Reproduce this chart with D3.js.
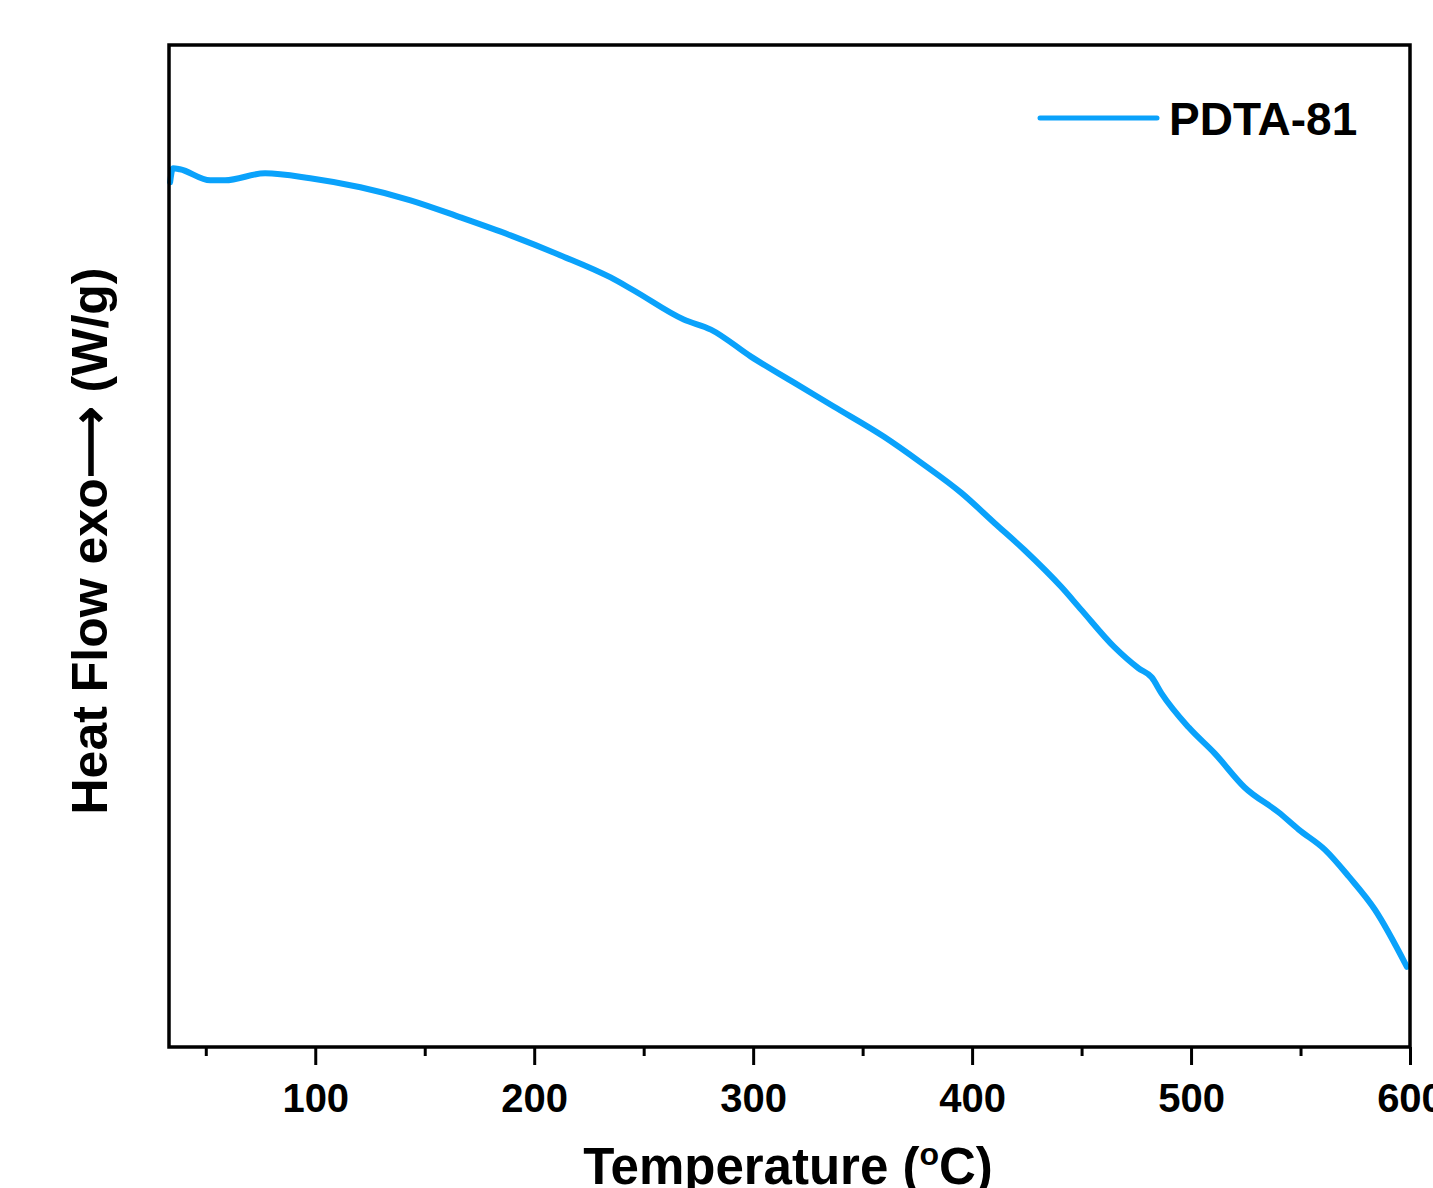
<!DOCTYPE html>
<html>
<head>
<meta charset="utf-8">
<script src="https://cdn.jsdelivr.net/npm/d3@7/dist/d3.min.js"></script>
<style>
  body { margin: 0; background: #fff; }
  svg text { font-family: "Liberation Sans", Arial, sans-serif; font-weight: bold; fill: #000; }
</style>
</head>
<body>
<svg id="chart" width="1433" height="1188"></svg>
<script>
// temperature (°C)
var temps = [33.7, 35.0, 38.2, 52.0, 58.8, 77.1, 97.7, 120.6, 143.5, 166.3, 189.2, 212.1,
  234.9, 245.5, 268.3, 280.7, 299.0, 318.7, 337.0, 359.8, 376.8, 395.1, 410.2, 423.9,
  440.8, 450.0, 465.0, 476.0, 482.0, 486.5, 498.9, 510.8, 524.5, 540.1, 549.2, 561.1,
  572.1, 584.0, 598.6];
// heat flow, arbitrary units (axis has no ticks)
var heatFlow = [86.3, 87.7, 87.6, 86.5, 86.5, 87.2, 86.7, 85.8, 84.5, 82.8, 81.0, 79.0,
  76.8, 75.5, 72.6, 71.6, 68.9, 66.3, 63.9, 60.9, 58.3, 55.3, 52.3, 49.6,
  45.9, 43.6, 39.9, 37.8, 36.9, 35.3, 31.9, 29.3, 25.9, 23.4, 21.7, 19.7,
  17.0, 13.7, 8.0];
var majorTicks = [100, 200, 300, 400, 500, 600];
var minorTicks = [50, 150, 250, 350, 450, 550];
var seriesName = 'PDTA-81';

var margin = {left: 169, right: 23, top: 45, bottom: 141};
var W = 1433, H = 1188;
var iw = W - margin.left - margin.right, ih = H - margin.top - margin.bottom;

var svg = d3.select('#chart');
var g = svg.append('g').attr('transform', 'translate(' + margin.left + ',' + margin.top + ')');

var x = d3.scaleLinear().domain([33.2, 600]).range([0, iw]);
var y = d3.scaleLinear().domain([0, 100]).range([ih, 0]);

var data = temps.map(function(t, i) { return {t: t, v: heatFlow[i]}; });

// minor ticks
var minorAxis = g.append('g').attr('transform', 'translate(0,' + ih + ')')
  .call(d3.axisBottom(x).tickValues(minorTicks).tickSize(9).tickSizeOuter(0).tickFormat(''));
minorAxis.select('.domain').remove();
minorAxis.selectAll('line').attr('stroke', '#000').attr('stroke-width', 3);

var majorAxis = g.append('g').attr('transform', 'translate(0,' + ih + ')')
  .call(d3.axisBottom(x).tickValues(majorTicks).tickSize(18).tickSizeOuter(0).tickPadding(19));
majorAxis.select('.domain').remove();
majorAxis.selectAll('line').attr('stroke', '#000').attr('stroke-width', 3);
majorAxis.selectAll('text').attr('font-size', 40).attr('fill', '#000')
  .style('font-family', '"Liberation Sans", Arial, sans-serif').style('font-weight', 'bold');

// curve
var line = d3.line().x(function(d) { return x(d.t); }).y(function(d) { return y(d.v); })
  .curve(d3.curveMonotoneX);
g.append('path').datum(data).attr('d', line)
  .attr('fill', 'none').attr('stroke', '#0aa2fb').attr('stroke-width', 6)
  .attr('stroke-linejoin', 'round').attr('stroke-linecap', 'round');

// frame
g.append('rect').attr('width', iw).attr('height', ih)
  .attr('fill', 'none').attr('stroke', '#000').attr('stroke-width', 3.5);

// legend
g.append('line').attr('x1', 1040 - margin.left).attr('x2', 1157 - margin.left)
  .attr('y1', 118 - margin.top).attr('y2', 118 - margin.top)
  .attr('stroke', '#0aa2fb').attr('stroke-width', 5).attr('stroke-linecap', 'round');
g.append('text').attr('x', 1169 - margin.left).attr('y', 135 - margin.top)
  .attr('font-size', 46).text(seriesName);

// axis titles
var xt = svg.append('text').attr('x', 788).attr('y', 1184)
  .attr('text-anchor', 'middle').attr('font-size', 51);
xt.append('tspan').text('Temperature (');
xt.append('tspan').attr('font-size', 32).attr('dy', -19).text('o');
xt.append('tspan').attr('dy', 19).text('C)');

svg.append('text').attr('transform', 'translate(107,541) rotate(-90)')
  .attr('text-anchor', 'middle').attr('font-size', 50).text('Heat Flow exo\u27F6 (W/g)');
</script>
</body>
</html>
